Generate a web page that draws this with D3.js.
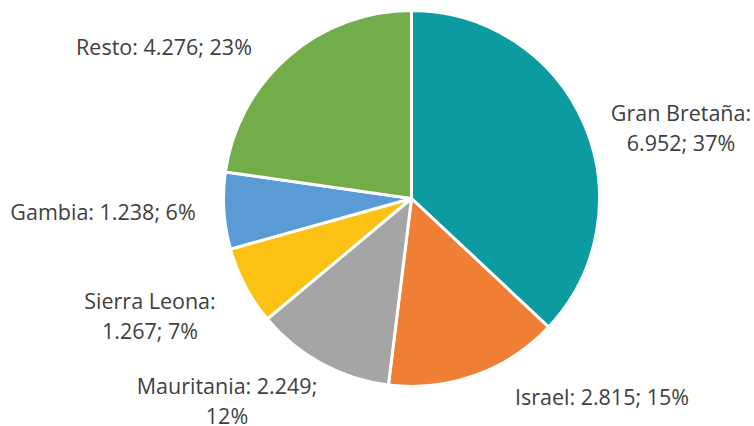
<!DOCTYPE html>
<html>
<head>
<meta charset="utf-8">
<script src="https://cdn.jsdelivr.net/npm/d3@7"></script>
<style>
  body { margin: 0; background: #fff; }
  text { font-family: "Open Sans", "Noto Sans", sans-serif; font-size: 21.5px; fill: #404040; }
</style>
</head>
<body>
<svg id="chart" width="754" height="426"></svg>
<script>
// data
const categories = ['Gran Bretaña', 'Israel', 'Mauritania', 'Sierra Leona', 'Gambia', 'Resto'];
const values = [6952, 2815, 2249, 1267, 1238, 4276];
const percents = ['37%', '15%', '12%', '7%', '6%', '23%'];
const valueLabels = ['6.952', '2.815', '2.249', '1.267', '1.238', '4.276'];

const colors = ['#0b9ba0', '#ee7f35', '#a5a5a5', '#fbc214', '#5b9bd5', '#72ad4a'];

// label text blocks: centre x, first baseline y, line breaks
const labelLayout = [
  { x: 681, y: 121, lines: d => [d.cat + ':', d.val + '; ' + d.pct] },
  { x: 602, y: 405, lines: d => [d.cat + ': ' + d.val + '; ' + d.pct] },
  { x: 227, y: 394, lines: d => [d.cat + ': ' + d.val + ';', d.pct] },
  { x: 150, y: 309, lines: d => [d.cat + ':', d.val + '; ' + d.pct] },
  { x: 103, y: 220, lines: d => [d.cat + ': ' + d.val + '; ' + d.pct] },
  { x: 164, y: 55, lines: d => [d.cat + ': ' + d.val + '; ' + d.pct] }
];

const svg = d3.select('#chart');
const cx = 411.5, cy = 198.5, radius = 188;

const pie = d3.pie().sort(null).value(d => d.v);
const arc = d3.arc().innerRadius(0).outerRadius(radius);

const rows = categories.map((c, i) => ({ cat: c, v: values[i], val: valueLabels[i], pct: percents[i], i: i }));

const g = svg.append('g').attr('transform', `translate(${cx},${cy})`);

g.selectAll('path')
  .data(pie(rows))
  .enter().append('path')
  .attr('d', arc)
  .attr('fill', d => colors[d.data.i])
  .attr('stroke', '#fff')
  .attr('stroke-width', 3)
  .attr('stroke-linejoin', 'round');

const labels = svg.selectAll('text.lbl')
  .data(rows)
  .enter().append('text')
  .attr('class', 'lbl')
  .attr('text-anchor', 'middle');

labels.each(function(d) {
  const lay = labelLayout[d.i];
  const t = d3.select(this);
  lay.lines(d).forEach((line, k) => {
    t.append('tspan')
      .attr('x', lay.x)
      .attr('y', lay.y + k * 30)
      .text(line);
  });
});
</script>
</body>
</html>
